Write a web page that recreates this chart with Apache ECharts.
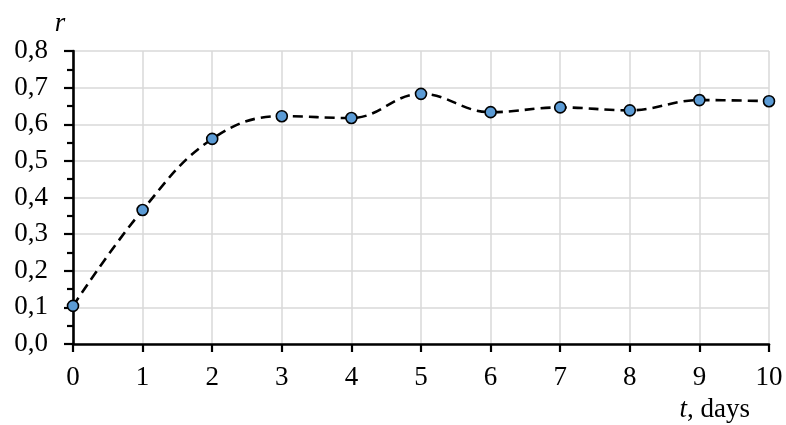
<!DOCTYPE html>
<html>
<head>
<meta charset="utf-8">
<script src="https://cdn.jsdelivr.net/npm/echarts@6/dist/echarts.min.js"></script>
<style>
html,body{margin:0;padding:0;background:#fff;}
#chart{width:786px;height:425px;}
</style>
</head>
<body>
<div id="chart"></div>
<script>
var days = [0, 1, 2, 3, 4, 5, 6, 7, 8, 9, 10];
var rValues = [0.104, 0.366, 0.560, 0.622, 0.617, 0.683, 0.633, 0.646, 0.638, 0.666, 0.663];
var yTicks = [0, 0.1, 0.2, 0.3, 0.4, 0.5, 0.6, 0.7, 0.8];

var FONT = '"Liberation Serif", "Times New Roman", serif';
var FS = 27;
var chart = echarts.init(document.getElementById('chart'), null, {renderer: 'canvas'});
var pts = days.map(function (d, i) { return [d, rValues[i]]; });

chart.setOption({
  animation: false,
  grid: {left: 73, right: 17, top: 51, bottom: 81},
  xAxis: {
    type: 'value', min: 0, max: 10, interval: 1,
    name: '{i|t}, days', nameLocation: 'end', nameGap: -19,
    nameTextStyle: {
      fontFamily: FONT, fontSize: FS, color: '#000', align: 'right', verticalAlign: 'top',
      padding: [52, 0, 0, 0],
      rich: {i: {fontFamily: FONT, fontSize: FS, fontStyle: 'italic', color: '#000'}}
    },
    axisLine: {lineStyle: {color: '#000', width: 2.6}},
    axisTick: {show: true, length: 8, lineStyle: {color: '#000', width: 2.2}},
    axisLabel: {fontFamily: FONT, fontSize: FS, color: '#000', margin: 20},
    splitLine: {show: true, lineStyle: {color: '#d9d9d9', width: 1.5}}
  },
  yAxis: {
    type: 'value', min: yTicks[0], max: yTicks[yTicks.length - 1], interval: 0.1,
    name: 'r', nameLocation: 'end', nameGap: 14,
    nameTextStyle: {fontFamily: FONT, fontSize: FS, fontStyle: 'italic', color: '#000', align: 'center', padding: [0, 26, 0, 0]},
    axisLine: {show: true, lineStyle: {color: '#000', width: 2.6}},
    axisTick: {show: true, length: 9, lineStyle: {color: '#000', width: 2.2}},
    minorTick: {show: true, splitNumber: 2, length: 6, lineStyle: {color: '#000', width: 2.2}},
    axisLabel: {
      fontFamily: FONT, fontSize: FS, color: '#000', margin: 25,
      formatter: function (v) { return v.toFixed(1).replace('.', ','); }
    },
    splitLine: {show: true, lineStyle: {color: '#d9d9d9', width: 1.5}}
  },
  series: [{
    type: 'line',
    data: pts,
    smooth: 0.4,
    symbol: 'circle',
    symbolSize: 11,
    itemStyle: {color: '#5b9bd5', borderColor: '#000', borderWidth: 1.6},
    lineStyle: {color: '#000', width: 2.6, type: [10, 6]},
    z: 5
  }]
});
</script>
</body>
</html>
